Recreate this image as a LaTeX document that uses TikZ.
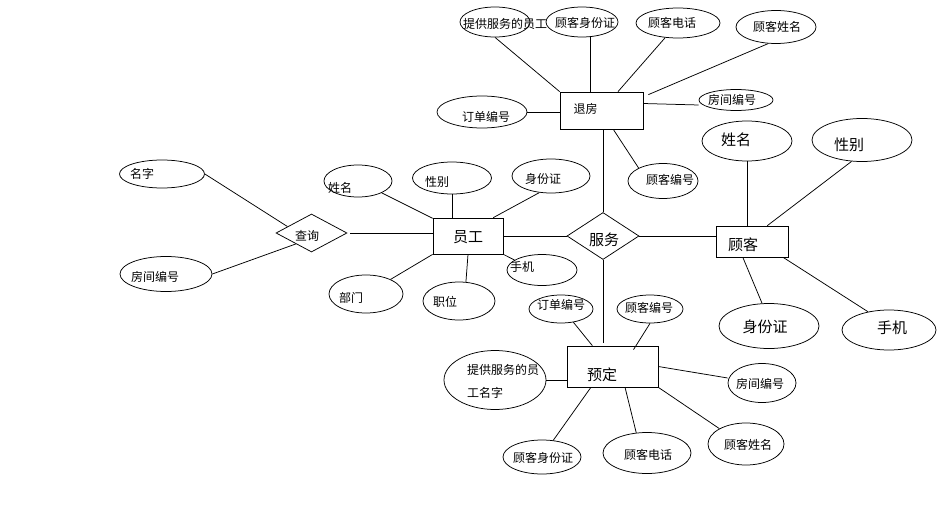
\documentclass[tikz,border=0pt]{standalone}
\usepackage{fontspec}
\newfontfamily\cjk{Noto Sans CJK SC}
\usetikzlibrary{shapes.geometric}
\begin{document}
\begin{tikzpicture}[x=1pt,y=-1pt,line width=0.75pt,
  attr/.style={ellipse,draw,inner sep=0pt},
  ent/.style={rectangle,draw,inner sep=0pt},
  rel/.style={diamond,draw,inner sep=0pt},
  sm/.style={font=\cjk\fontsize{12}{14}\selectfont,inner sep=0pt},
  bg/.style={font=\cjk\fontsize{15}{18}\selectfont,inner sep=0pt}]
\useasboundingbox[fill=white] (0,0) rectangle (945,511);

% ---------- entities & relationships ----------
\node[ent,minimum width=83pt,minimum height=37pt,label={[sm,xshift=-16pt,yshift=2pt]center:退房}] (tf) at (601.5,110.5) {};
\node[ent,minimum width=70pt,minimum height=36pt,label={[bg,yshift=-1pt]center:员工}] (yg) at (468,236) {};
\node[ent,minimum width=72pt,minimum height=31pt,label={[bg,xshift=-9pt,yshift=-3.5pt]center:顾客}] (gk) at (752,241.5) {};
\node[ent,minimum width=91pt,minimum height=41pt,label={[bg,xshift=-10.5pt,yshift=-8.5pt]center:预定}] (yd) at (612.5,366.5) {};
\node[rel,minimum width=72pt,minimum height=47pt,label={[bg,xshift=1pt,yshift=-4pt]center:服务}] (fw) at (603,236) {};
\node[rel,minimum width=71pt,minimum height=38pt,label={[sm,xshift=-4.5pt,yshift=-3pt]center:查询}] (cx) at (311.5,233) {};

% ---------- 退房 attributes ----------
\node[attr,minimum width=70pt,minimum height=30pt,label={[sm,xshift=10pt,yshift=-2pt]center:提供服务的员工}] (tg1) at (495,22) {};
\node[attr,minimum width=72pt,minimum height=30pt,label={[sm,xshift=3pt,yshift=-1pt]center:顾客身份证}] (cs1) at (582,22) {};
\node[attr,minimum width=84pt,minimum height=30pt,label={[sm,xshift=-6pt]center:顾客电话}] (dh1) at (678,23) {};
\node[attr,minimum width=80pt,minimum height=33pt,label={[sm,xshift=1pt]center:顾客姓名}] (xm1) at (776,27) {};
\node[attr,minimum width=90pt,minimum height=32pt,label={[sm,xshift=4pt,yshift=-5pt]center:订单编号}] (dd1) at (482,112) {};
\node[attr,minimum width=74pt,minimum height=21pt,label={[sm,xshift=-4pt]center:房间编号}] (fj1) at (736,100) {};
\node[attr,minimum width=70pt,minimum height=35pt,label={[sm,xshift=7pt,yshift=1pt]center:顾客编号}] (gb1) at (663,181) {};

% ---------- 查询 attributes ----------
\node[attr,minimum width=85pt,minimum height=28pt,label={[sm,xshift=-20pt]center:名字}] (mz) at (162,174) {};
\node[attr,minimum width=92pt,minimum height=35pt,label={[sm,xshift=-11pt,yshift=-3pt]center:房间编号}] (fjl) at (166,274) {};

% ---------- 员工 attributes ----------
\node[attr,minimum width=68pt,minimum height=32pt,label={[sm,xshift=-18pt,yshift=-7pt]center:姓名}] (exm) at (358,181) {};
\node[attr,minimum width=79pt,minimum height=32pt,label={[sm,xshift=-15pt,yshift=-4pt]center:性别}] (exb) at (452,178) {};
\node[attr,minimum width=78pt,minimum height=34pt,label={[sm,xshift=-8pt,yshift=-3pt]center:身份证}] (esfz) at (551,176) {};
\node[attr,minimum width=70pt,minimum height=31pt,label={[sm,xshift=-20pt,yshift=3pt]center:手机}] (esj) at (542,270) {};
\node[attr,minimum width=74pt,minimum height=38pt,label={[sm,xshift=-15pt,yshift=-4pt]center:部门}] (ebm) at (366,294) {};
\node[attr,minimum width=72pt,minimum height=38pt,label={[sm,xshift=-14pt,yshift=-1pt]center:职位}] (ezw) at (459,301) {};

% ---------- 顾客 attributes ----------
\node[attr,minimum width=90pt,minimum height=40pt,label={[bg,xshift=-11pt,yshift=1pt]center:姓名}] (cxm) at (747,141) {};
\node[attr,minimum width=100pt,minimum height=43pt,label={[bg,xshift=-13pt,yshift=-5pt]center:性别}] (cxb) at (862,140) {};
\node[attr,minimum width=100pt,minimum height=45pt,label={[bg,xshift=-4pt,yshift=-1pt]center:身份证}] (csfz) at (769,326) {};
\node[attr,minimum width=94pt,minimum height=40pt,label={[bg,xshift=3pt,yshift=2pt]center:手机}] (csj) at (889,330) {};

% ---------- 预定 attributes ----------
\node[attr,minimum width=64pt,minimum height=28pt,label={[sm,yshift=4pt]center:订单编号}] (dd2) at (561,309) {};
\node[attr,minimum width=66pt,minimum height=28pt,label={[sm,xshift=-1pt,yshift=1pt]center:顾客编号}] (gb2) at (650,309) {};
\node[attr,minimum width=102pt,minimum height=59pt,label={[sm,align=left,font=\cjk\fontsize{12}{23}\selectfont,xshift=8pt,yshift=-1.5pt]center:提供服务的员\\工名字}] (tg2) at (495,380) {};
\node[attr,minimum width=68pt,minimum height=39pt,label={[sm,xshift=-2pt,yshift=-1pt]center:房间编号}] (fj2) at (762,383) {};
\node[attr,minimum width=78pt,minimum height=34pt,label={[sm,xshift=1pt,yshift=-1pt]center:顾客身份证}] (cs2) at (542,457) {};
\node[attr,minimum width=88pt,minimum height=41pt,label={[sm,xshift=1pt,yshift=-2pt]center:顾客电话}] (dh2) at (647,453) {};
\node[attr,minimum width=76pt,minimum height=42pt,label={[sm,xshift=2pt,yshift=-1pt]center:顾客姓名}] (xm2) at (746,444) {};

% ---------- connectors ----------
% 退房
\draw (tg1.south) -- (tf.north west);
\draw ([xshift=-11pt]tf.north) -- ([xshift=-11pt]tf.north |- cs1.south);
\draw (dh1) -- (tf);
\draw (xm1.245) -- ([xshift=5pt,yshift=-3pt]tf.north east);
\draw ([yshift=7pt]tf.east) -- ([yshift=-5pt]fj1.west);
\draw (dd1.east) -- (dd1.east -| tf.west);
\draw (gb1.152) -- (tf.302);
% relationships
\draw (tf.south -| fw.north) -- (fw.north);
\draw (fw.south) -- ([yshift=3pt]fw.south |- yd.north);
\draw (fw.west) -- (fw.west -| yg.east);
\draw (fw.east) -- (fw.east -| gk.west);
\draw ([xshift=3pt]cx.east) -- (cx.east -| yg.west);
% 查询
\draw (mz.east) -- (cx.165);
\draw (fjl.east) -- (cx.215);
% 员工
\draw (exm) -- (yg);
\draw (exb.south) -- (exb.south |- yg.north);
\draw (esfz.235) -- (yg.36);
\draw (yg.south east) -- (esj.160);
\draw (ebm) -- (yg.south west);
\draw (ezw.70) -- (yg.south);
% 顾客
\draw (cxm.south) -- (cxm.south |- gk.north);
\draw (cxb.244) -- (gk.46);
\draw (csfz.107) -- (gk.240);
\draw (csj.139) -- (gk.333);
% 预定
\draw (dd2.313) -- (yd.134);
\draw (gb2.south) -- ([xshift=21pt,yshift=-4pt]yd.north);
\draw (tg2.east) -- (tg2.east -| yd.west);
\draw (yd.east) -- ([yshift=5pt]fj2.west);
\draw (cs2.56) -- (yd.224);
\draw (dh2.118) -- (yd.301);
\draw (xm2.150) -- (yd.south east);
\end{tikzpicture}
\end{document}
